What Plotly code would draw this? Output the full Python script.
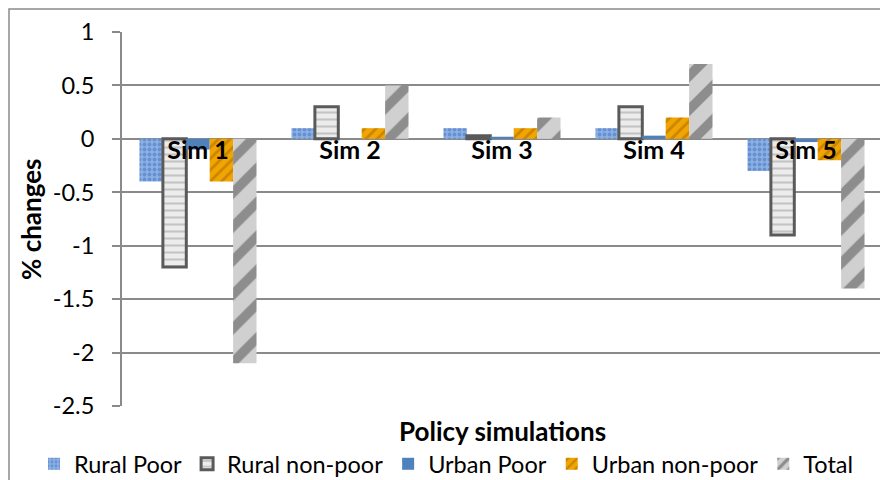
import plotly.graph_objects as go

categories = ["Sim 1", "Sim 2", "Sim 3", "Sim 4", "Sim 5"]
rural_poor = [-0.4, 0.1, 0.1, 0.1, -0.3]
rural_nonpoor = [-1.2, 0.3, 0.03, 0.3, -0.9]
urban_poor = [-0.1, 0.0, 0.02, 0.03, -0.03]
urban_nonpoor = [-0.4, 0.1, 0.1, 0.2, -0.2]
total = [-2.1, 0.5, 0.2, 0.7, -1.4]
y_ticks = [1, 0.5, 0, -0.5, -1, -1.5, -2, -2.5]

FONT = "Lato"
# page body has an 8px offset; plot area spans window x 122..882, y 32..406
L, T, W, H = 114, 24, 760, 374
def px(fx):
    return (fx - 8 - L) / W
def py(fy):
    return (T + H - (fy - 8)) / H

fig = go.Figure()
fig.add_bar(x=categories, y=rural_poor, name="Rural Poor",
            marker=dict(color="#7ea3da", line=dict(width=0),
                        pattern=dict(shape=".", fgcolor="#3f6fbd", bgcolor="#8cb0e4", size=5, solidity=0.45)))
fig.add_bar(x=categories, y=rural_nonpoor, name="Rural non-poor",
            marker=dict(color="#d4d4d4", line=dict(width=3, color="#5a5a5a"),
                        pattern=dict(shape="-", fgcolor="#9a9a9a", bgcolor="#ececec", size=7, solidity=0.3)))
fig.add_bar(x=categories, y=urban_poor, name="Urban Poor",
            marker=dict(color="#4f81bd", line=dict(width=0)))
fig.add_bar(x=categories, y=urban_nonpoor, name="Urban non-poor",
            marker=dict(color="#e8a000", line=dict(width=0),
                        pattern=dict(shape="/", fgcolor="#a86400", bgcolor="#f0a500", size=8, solidity=0.35)))
fig.add_bar(x=categories, y=total, name="Total",
            marker=dict(color="#a8a8a8", line=dict(width=0),
                        pattern=dict(shape="/", fgcolor="#4a4a4a", bgcolor="#d0d0d0", size=24, solidity=0.4)))

zero_frac = (0 - (-2.5)) / (1 - (-2.5))

fig.update_layout(
    width=888, height=480,
    margin=dict(l=L, r=888 - L - W, t=T, b=480 - T - H, autoexpand=False),
    paper_bgcolor="white", plot_bgcolor="white",
    barmode="group", bargap=0.23, bargroupgap=0,
    font=dict(family=FONT, color="#000000"),
    showlegend=True,
    legend=dict(orientation="h", x=px(34), xanchor="left", y=py(464), yanchor="middle",
                font=dict(family=FONT, size=23.5, color="#000"), traceorder="normal",
                itemwidth=30, bgcolor="rgba(0,0,0,0)"),
    xaxis=dict(anchor="free", position=zero_frac, showline=False, ticks="",
               showgrid=False, tickfont=dict(family=FONT, size=25, color="#000", weight="bold"),
               ticklabelstandoff=-6,
               range=[-0.5, 4.5]),
    yaxis=dict(range=[-2.5, 1], tickvals=y_ticks, ticktext=[str(v) for v in y_ticks],
               showgrid=True, gridcolor="#8a8a8a", gridwidth=2,
               zeroline=True, zerolinecolor="#8a8a8a", zerolinewidth=2,
               showline=True, linecolor="#8a8a8a", linewidth=2,
               ticks="outside", ticklen=8, tickcolor="#8a8a8a", tickwidth=2,
               ticklabelstandoff=13,
               tickfont=dict(family=FONT, size=23.5, color="#000")),
)

fig.add_annotation(text="<b>% changes</b>", textangle=-90, xref="paper", yref="paper",
                   x=px(31), y=0.5, xanchor="center", yanchor="middle",
                   showarrow=False, font=dict(family=FONT, size=26, color="#000"))
fig.add_annotation(text="<b>Policy simulations</b>", xref="paper", yref="paper",
                   x=px(502), y=py(431), xanchor="center", yanchor="middle",
                   showarrow=False, font=dict(family=FONT, size=26, color="#000"))

fig.add_shape(type="rect", xref="paper", yref="paper",
              x0=px(9), x1=px(900),
              y0=py(500), y1=py(9),
              line=dict(color="#8a8a8a", width=1.5), fillcolor="rgba(0,0,0,0)", layer="below")

fig.write_html("out.html")
